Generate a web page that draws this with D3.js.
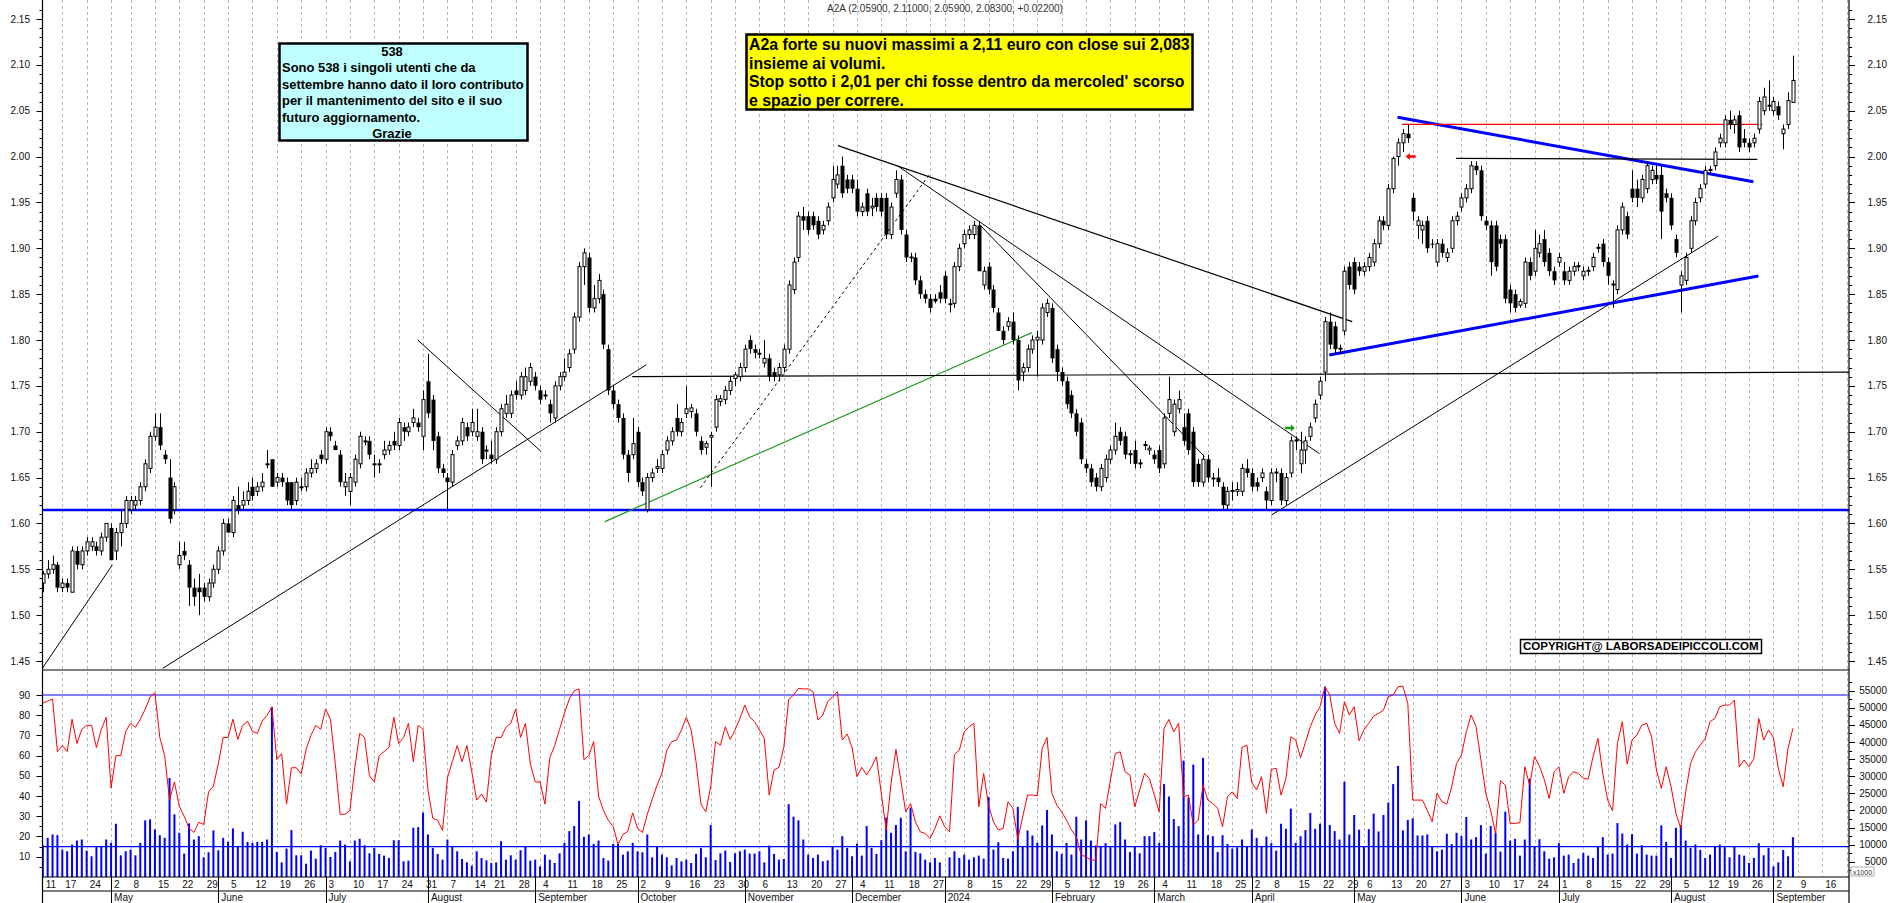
<!DOCTYPE html>
<html><head><meta charset="utf-8">
<script src="https://cdn.jsdelivr.net/npm/d3@7"></script>
<style>
html,body{margin:0;padding:0;background:#fff;}
svg{display:block;}
text{font-family:"Liberation Sans",Arial,sans-serif;}
</style></head><body>
<svg id="c" width="1890" height="903"></svg>
<script>
// ---------------- DATA ----------------
const firstDay = "2023-04-11";
const lastAxisDay = "2024-09-27";
const holidays = ["2023-05-01","2023-08-15","2023-12-25","2023-12-26","2024-01-01","2024-03-29","2024-04-01","2024-05-01","2024-08-15"];

const open = [
1.535,1.545,1.55,1.555,1.53,1.535,1.525,1.57,1.555,1.57,
1.575,1.575,1.57,1.585,1.595,1.57,1.59,1.60,1.615,1.62,
1.625,1.64,1.66,1.695,1.705,1.675,1.65,1.615,1.555,1.57,
1.555,1.53,1.53,1.53,1.52,1.535,1.55,1.57,1.60,1.59,
1.62,1.62,1.625,1.64,1.635,1.64,1.665,1.67,1.645,1.65,
1.645,1.645,1.625,1.64,1.64,1.655,1.66,1.675,1.67,1.70,
1.685,1.675,1.64,1.635,1.645,1.665,1.69,1.69,1.665,1.665,
1.675,1.68,1.69,1.685,1.705,1.70,1.71,1.71,1.695,1.755,
1.735,1.695,1.66,1.65,1.645,1.685,1.69,1.705,1.70,1.695,
1.70,1.68,1.675,1.67,1.70,1.72,1.72,1.745,1.74,1.745,
1.755,1.76,1.745,1.74,1.73,1.715,1.75,1.76,1.77,1.79,
1.825,1.88,1.89,1.835,1.845,1.85,1.79,1.745,1.73,1.715,
1.675,1.675,1.70,1.645,1.615,1.65,1.66,1.66,1.68,1.69,
1.715,1.70,1.72,1.722,1.72,1.69,1.683,1.694,1.705,1.733,
1.735,1.745,1.758,1.76,1.77,1.80,1.79,1.786,1.775,1.78,
1.765,1.762,1.77,1.79,1.855,1.89,1.935,1.935,1.935,1.93,
1.92,1.93,1.955,1.97,1.99,1.975,1.975,1.965,1.94,1.96,
1.944,1.955,1.955,1.955,1.915,1.96,1.975,1.915,1.891,1.89,
1.865,1.85,1.845,1.845,1.852,1.87,1.84,1.84,1.88,1.905,
1.915,1.915,1.925,1.86,1.88,1.855,1.83,1.81,1.815,1.82,
1.80,1.765,1.77,1.79,1.80,1.80,1.83,1.835,1.79,1.765,
1.755,1.74,1.72,1.71,1.665,1.66,1.65,1.64,1.65,1.67,
1.68,1.70,1.695,1.675,1.68,1.665,1.685,1.68,1.675,1.68,
1.665,1.72,1.70,1.725,1.705,1.72,1.70,1.665,1.645,1.67,
1.65,1.65,1.64,1.62,1.635,1.635,1.635,1.66,1.655,1.645,
1.65,1.635,1.625,1.655,1.655,1.625,1.655,1.69,1.665,1.68,
1.695,1.715,1.74,1.765,1.82,1.815,1.79,1.81,1.88,1.885,
1.88,1.875,1.88,1.885,1.905,1.93,1.925,1.965,2.00,2.015,
2.025,1.955,1.925,1.92,1.93,1.905,1.885,1.905,1.89,1.90,
1.93,1.945,1.955,1.965,1.99,1.985,1.93,1.925,1.925,1.91,
1.91,1.855,1.85,1.838,1.84,1.885,1.875,1.895,1.91,1.895,
1.875,1.885,1.875,1.865,1.875,1.88,1.87,1.875,1.88,1.90,
1.905,1.885,1.86,1.855,1.92,1.935,1.965,1.965,1.955,1.965,
1.975,1.98,1.98,1.96,1.955,1.91,1.86,1.865,1.90,1.93,
1.955,1.97,1.985,1.99,2.015,2.015,2.04,2.035,2.045,2.02,
2.015,2.015,2.03,2.05,2.055,2.05,2.055,2.025,2.035,2.059];
const high = [
1.548,1.56,1.565,1.558,1.54,1.54,1.575,1.575,1.575,1.585,
1.585,1.58,1.59,1.60,1.60,1.595,1.615,1.63,1.63,1.63,
1.645,1.67,1.70,1.72,1.72,1.68,1.67,1.645,1.58,1.58,
1.56,1.54,1.545,1.535,1.54,1.555,1.575,1.605,1.605,1.63,
1.64,1.635,1.645,1.65,1.645,1.655,1.68,1.67,1.655,1.655,
1.65,1.645,1.65,1.65,1.66,1.67,1.67,1.68,1.705,1.705,
1.69,1.68,1.655,1.655,1.675,1.70,1.695,1.695,1.675,1.67,
1.69,1.69,1.70,1.715,1.71,1.71,1.725,1.715,1.745,1.785,
1.74,1.70,1.665,1.655,1.68,1.695,1.715,1.71,1.725,1.725,
1.705,1.685,1.69,1.705,1.73,1.74,1.745,1.755,1.765,1.77,
1.775,1.765,1.75,1.745,1.735,1.755,1.765,1.78,1.79,1.83,
1.885,1.90,1.895,1.86,1.872,1.855,1.795,1.75,1.735,1.72,
1.68,1.715,1.705,1.65,1.655,1.66,1.67,1.68,1.695,1.705,
1.73,1.715,1.75,1.73,1.725,1.695,1.69,1.70,1.74,1.74,
1.75,1.76,1.765,1.775,1.795,1.805,1.795,1.79,1.80,1.785,
1.77,1.775,1.795,1.865,1.89,1.94,1.945,1.94,1.94,1.935,
1.93,1.95,1.99,1.99,2.00,1.98,1.98,1.975,1.95,1.965,
1.955,1.96,1.96,1.96,1.95,1.985,1.98,1.92,1.895,1.895,
1.87,1.855,1.85,1.85,1.86,1.875,1.845,1.885,1.905,1.92,
1.925,1.93,1.93,1.88,1.885,1.86,1.835,1.815,1.825,1.83,
1.805,1.775,1.795,1.805,1.81,1.84,1.845,1.84,1.795,1.77,
1.76,1.745,1.725,1.715,1.67,1.665,1.655,1.665,1.675,1.685,
1.71,1.705,1.70,1.68,1.69,1.67,1.69,1.685,1.68,1.685,
1.72,1.76,1.735,1.745,1.72,1.725,1.705,1.67,1.675,1.675,
1.655,1.66,1.645,1.64,1.645,1.645,1.665,1.67,1.66,1.65,
1.66,1.64,1.66,1.66,1.66,1.655,1.695,1.695,1.70,1.695,
1.71,1.735,1.76,1.825,1.83,1.82,1.795,1.88,1.885,1.89,
1.885,1.885,1.895,1.91,1.935,1.935,1.97,2.00,2.02,2.03,
2.035,1.96,1.935,1.93,1.935,1.91,1.91,1.91,1.90,1.935,
1.94,1.96,1.97,1.995,1.995,1.99,1.935,1.93,1.93,1.915,
1.915,1.86,1.855,1.845,1.89,1.89,1.92,1.915,1.92,1.90,
1.88,1.895,1.885,1.88,1.885,1.885,1.88,1.88,1.895,1.905,
1.91,1.89,1.865,1.925,1.95,1.94,1.985,1.975,1.98,1.995,
1.99,1.99,1.99,1.965,1.96,1.915,1.875,1.895,1.935,1.955,
1.97,1.99,1.99,2.01,2.025,2.045,2.05,2.045,2.05,2.03,
2.02,2.025,2.065,2.075,2.083,2.065,2.06,2.035,2.07,2.11];
const low = [
1.525,1.54,1.545,1.525,1.525,1.525,1.525,1.55,1.55,1.565,
1.57,1.565,1.565,1.58,1.56,1.56,1.575,1.595,1.61,1.615,
1.62,1.635,1.655,1.69,1.68,1.665,1.60,1.61,1.55,1.56,
1.51,1.51,1.50,1.515,1.515,1.53,1.545,1.565,1.59,1.585,
1.61,1.615,1.62,1.625,1.63,1.635,1.66,1.64,1.64,1.64,
1.62,1.615,1.62,1.635,1.635,1.65,1.655,1.665,1.665,1.69,
1.68,1.64,1.63,1.62,1.64,1.66,1.685,1.67,1.65,1.655,
1.67,1.675,1.68,1.68,1.69,1.695,1.705,1.70,1.68,1.715,
1.68,1.655,1.65,1.615,1.64,1.68,1.685,1.69,1.695,1.69,
1.665,1.67,1.665,1.665,1.695,1.715,1.715,1.735,1.735,1.74,
1.75,1.745,1.73,1.735,1.71,1.71,1.745,1.755,1.765,1.785,
1.82,1.86,1.83,1.83,1.84,1.79,1.74,1.725,1.71,1.67,
1.645,1.67,1.64,1.63,1.612,1.645,1.655,1.655,1.675,1.685,
1.695,1.695,1.715,1.715,1.695,1.675,1.675,1.64,1.70,1.728,
1.73,1.74,1.75,1.755,1.765,1.785,1.78,1.78,1.77,1.755,
1.755,1.755,1.765,1.785,1.85,1.885,1.92,1.915,1.92,1.91,
1.915,1.925,1.95,1.965,1.955,1.96,1.96,1.935,1.935,1.935,
1.935,1.94,1.935,1.91,1.91,1.955,1.915,1.885,1.885,1.86,
1.845,1.84,1.83,1.84,1.84,1.84,1.83,1.835,1.875,1.90,
1.91,1.91,1.875,1.855,1.85,1.83,1.81,1.795,1.81,1.795,
1.745,1.755,1.765,1.785,1.76,1.795,1.825,1.775,1.755,1.75,
1.725,1.715,1.695,1.665,1.655,1.64,1.635,1.635,1.645,1.665,
1.675,1.685,1.67,1.665,1.66,1.66,1.68,1.675,1.665,1.655,
1.66,1.715,1.695,1.72,1.685,1.675,1.64,1.64,1.64,1.645,
1.64,1.64,1.615,1.615,1.625,1.63,1.63,1.65,1.635,1.635,
1.645,1.615,1.62,1.645,1.62,1.62,1.65,1.68,1.655,1.665,
1.69,1.71,1.735,1.755,1.79,1.785,1.785,1.805,1.855,1.85,
1.87,1.87,1.875,1.88,1.90,1.92,1.92,1.96,1.99,2.005,
2.015,1.93,1.91,1.905,1.895,1.90,1.88,1.89,1.885,1.895,
1.925,1.94,1.95,1.96,1.98,1.93,1.92,1.87,1.875,1.90,
1.84,1.83,1.83,1.835,1.835,1.865,1.87,1.89,1.88,1.87,
1.86,1.88,1.86,1.86,1.87,1.875,1.865,1.87,1.875,1.895,
1.88,1.86,1.835,1.85,1.915,1.91,1.95,1.945,1.95,1.96,
1.97,1.97,1.91,1.95,1.92,1.89,1.83,1.86,1.895,1.925,
1.95,1.965,1.98,1.985,2.01,2.01,2.03,2.025,2.005,2.01,
2.005,2.01,2.025,2.045,2.05,2.045,2.04,2.008,2.03,2.059];
const close = [
1.545,1.55,1.555,1.53,1.535,1.53,1.57,1.555,1.57,1.58,
1.58,1.57,1.585,1.60,1.56,1.59,1.60,1.625,1.625,1.625,
1.64,1.665,1.695,1.705,1.685,1.67,1.605,1.64,1.565,1.565,
1.53,1.52,1.525,1.52,1.535,1.55,1.57,1.60,1.59,1.625,
1.615,1.625,1.635,1.63,1.64,1.645,1.665,1.64,1.65,1.645,
1.625,1.62,1.645,1.64,1.655,1.66,1.665,1.67,1.70,1.695,
1.68,1.645,1.645,1.65,1.67,1.695,1.69,1.675,1.665,1.665,
1.68,1.685,1.685,1.71,1.70,1.705,1.715,1.705,1.735,1.72,
1.69,1.66,1.655,1.645,1.675,1.69,1.71,1.695,1.71,1.70,
1.67,1.68,1.67,1.70,1.725,1.73,1.74,1.74,1.76,1.76,
1.77,1.75,1.735,1.74,1.72,1.75,1.76,1.765,1.785,1.825,
1.88,1.895,1.835,1.845,1.865,1.795,1.745,1.73,1.715,1.675,
1.655,1.687,1.645,1.635,1.65,1.655,1.662,1.675,1.69,1.70,
1.70,1.71,1.725,1.726,1.70,1.68,1.687,1.696,1.735,1.736,
1.745,1.755,1.762,1.77,1.79,1.79,1.786,1.784,1.78,1.76,
1.76,1.77,1.79,1.86,1.885,1.935,1.93,1.92,1.925,1.915,
1.925,1.945,1.975,1.98,1.96,1.965,1.965,1.94,1.945,1.94,
1.946,1.945,1.94,1.915,1.945,1.975,1.92,1.89,1.889,1.865,
1.85,1.845,1.835,1.842,1.845,1.845,1.838,1.88,1.90,1.915,
1.92,1.925,1.875,1.875,1.855,1.835,1.81,1.80,1.82,1.80,
1.756,1.77,1.79,1.80,1.803,1.835,1.84,1.78,1.765,1.755,
1.73,1.72,1.70,1.67,1.66,1.645,1.64,1.66,1.67,1.68,
1.695,1.69,1.675,1.676,1.665,1.666,1.686,1.682,1.67,1.66,
1.715,1.735,1.73,1.735,1.69,1.68,1.645,1.645,1.67,1.65,
1.648,1.645,1.62,1.635,1.636,1.637,1.66,1.655,1.64,1.64,
1.655,1.625,1.655,1.656,1.625,1.65,1.69,1.691,1.68,1.69,
1.705,1.73,1.755,1.82,1.795,1.79,1.791,1.875,1.86,1.855,
1.875,1.88,1.89,1.905,1.93,1.925,1.965,1.998,2.015,2.025,
2.02,1.94,1.93,1.925,1.90,1.904,1.905,1.895,1.895,1.93,
1.935,1.955,1.965,1.99,1.985,1.935,1.925,1.885,1.88,1.905,
1.845,1.84,1.835,1.842,1.885,1.87,1.90,1.905,1.885,1.875,
1.865,1.89,1.865,1.875,1.88,1.881,1.875,1.876,1.89,1.901,
1.885,1.87,1.861,1.92,1.945,1.915,1.955,1.955,1.975,1.99,
1.985,1.975,1.94,1.955,1.925,1.895,1.87,1.89,1.93,1.95,
1.965,1.985,1.986,2.005,2.02,2.04,2.035,2.04,2.01,2.015,
2.01,2.02,2.06,2.065,2.056,2.06,2.045,2.03,2.061,2.083];

// volume (thousands, right axis "x1000")
const volume = [
9820,11980,12960,12770,8540,8050,10020,11190,11490,8250,
6580,9530,9530,11490,10510,16100,6870,8050,8540,6870,
10510,17090,17380,14440,12770,11980,29460,18850,13450,7370,
16200,11490,12470,6280,7760,14140,8350,11980,10800,14730,
9530,13750,10800,10510,10800,10800,11490,50280,7860,4810,
8840,14240,6870,6870,4420,8250,5890,9820,9030,6380,
7860,11190,10020,5110,11190,11690,9820,7460,9030,7270,
6780,6090,11290,11290,5110,5300,14930,15120,19350,12960,
9030,7270,5600,11490,9530,8050,5790,4810,3830,8050,
6090,5400,4620,4810,11000,5600,6870,5600,8350,9530,
5300,5600,3630,7070,5600,4620,7460,10510,13940,15420,
22780,12280,12960,10210,11190,6090,5300,10210,10210,7070,
8000,
10510,8050,7760,12960,6280,9530,7070,6280,3930,6090,
5110,5600,4620,7270,9030,6280,15710,5500,7460,8250,
4910,7460,8050,8540,7370,7370,8050,4810,9720,7270,
5600,5790,21800,18170,17090,11490,7070,6090,7070,5110,
5400,9530,8540,12470,9030,6580,10310,6780,15420,9030,
7270,11290,17870,13450,15710,17870,8050,20820,7860,7460,
5600,4810,6090,4810,0,6280,8050,6090,7070,5600,
6280,6780,5890,23960,8540,10700,6090,5890,8050,21010,
9530,14140,12670,10510,15610,20130,12960,8050,7270,10510,
7070,18170,11490,17090,11190,9720,9430,10410,9230,15910,
16600,11490,7860,9530,7460,12470,12470,13650,10510,27690,
24060,17480,15420,34570,23760,33390,12960,35350,12770,12470,
7860,12770,10210,8840,9230,11490,9530,14440,11980,
9530,12370,10410,8250,16100,14630,20520,10510,12470,14240,
19250,14630,16100,56170,15710,13940,11490,28380,12960,18660,
14340,9530,14530,19050,13850,18660,22290,27690,33000,14140,
17190,17680,12670,12670,12960,9530,8050,8540,13160,10110,
13450,12470,18070,11490,12180,15710,7370,15420,13450,7950,
19640,11190,11690,6780,11490,29260,9530,11590,8050,5890,
6280,10410,6780,7070,4620,5890,7560,6780,6090,9330,
12180,7070,7370,16300,13260,10020,13060,7370,9820,7070,
6780,6780,15610,10800,6090,14930,15710,11190,9030,10020,
8450,6090,7070,9530,10020,9230,6280,9330,7070,6780,
4620,6090,10410,6870,9030,3630,4810,8450,6580,12180];

// oscillator (left axis of lower panel)
const oscillator = [
86,87,88,62,65,62,78,66,73,75,
75,64,73,79,44,60,60,72,76,74,
78,83,89,91,69,60,38,47,35,30,
24,22,27,26,42,45,56,69,69,78,
68,75,77,72,71,77,80,84,58,61,
36,54,54,51,63,70,75,73,83,78,
56,31,31,33,54,71,69,50,47,60,
62,64,79,66,69,76,57,75,73,43,
29,28,23,49,57,65,57,65,52,38,
41,37,60,69,69,74,76,83,69,76,
56,47,47,36,59,65,73,81,88,92,
93,58,60,67,40,33,28,25,16,21,
22.5,31.7,24,22,31,38.3,45.4,51.2,62.7,66.9,
67.7,72.7,78.9,72.7,57,36,32.2,44.6,66.9,65.2,
74.3,68,72.7,78.4,85,79.2,76.8,72.7,68.5,40.5,
52.9,54.2,64.1,87.8,90,93.3,93,93,91.6,77.6,
80.1,86.7,89.2,91.6,67.7,70.7,64.1,49.6,54.2,50.4,
54.5,59.5,41.3,23.2,46.3,63.1,47.9,32.2,36.3,27.3,
22.3,21.5,19,24,30.2,24.8,22.3,60.6,62.7,71.8,
74.3,76,34.7,51.2,35.5,27.3,23.2,24,37.2,33.9,
18.7,29.7,40.5,40.5,40.1,63.6,69,41.3,35.5,32.2,
28.1,23.2,19.9,10.8,10,8.3,8.3,36.3,33.9,47.9,
61.1,61.9,52,50.4,34.7,43,51.2,48.7,40.5,32.2,
73.5,77.9,71.8,76,39.6,40.5,25.6,28.1,45.4,38,
36.3,33.9,24.8,39.6,42.1,38.8,64.1,65.2,46.6,43,
49.6,31.4,53.2,53.7,40.5,48.7,69.4,67.7,59,66.5,
74.3,80.1,84.2,94.1,90,76,71,86.7,80.1,84.2,
67.4,72.7,76,79.6,80.9,82.5,89.2,90,94.1,94.4,
85.8,38,38,38,33,27.3,41.3,37.2,36,44.6,
56.1,60.3,71.8,80.1,74.3,57.8,41.3,33,21.5,47.6,
45.4,26.5,26.5,26.8,54.5,45.4,59.5,54.8,48.2,38.8,
52,54.5,41.3,49.6,52,51.2,48.7,48.4,59.5,68.5,
51.2,38,32.7,66.1,76.8,55.8,67.7,70.2,75.1,76,
69.4,52.9,43.8,54.5,44.6,31.4,24,42.1,56.1,61.9,
65.2,68.5,76.8,78.4,84.2,85,85,87.5,54.5,57.8,
54.5,58.6,78.4,67.7,72.7,69,53.7,44.6,63.6,73.5];

const oscLevels = [90, 15];
const priceTicks = d3.range(145, 216, 5).map(v => v / 100);
const oscTicks = [10,20,30,40,50,60,70,80,90];
const volTicks = d3.range(5000, 55001, 5000);
const supportLevel = 1.6146;

// drawn studies, in (trading-day index, price)
const studies = [
 {p:[[-0.1,1.442],[14.3,1.555]], c:"#000", w:1},
 {p:[[24.6,1.442],[123.8,1.773]], c:"#000", w:1},
 {p:[[76.9,1.80],[102.1,1.679]], c:"#000", w:1},
 {p:[[115.3,1.602],[202.9,1.808]], c:"#1a9a1a", w:1.2},
 {p:[[134.9,1.639],[182.1,1.982]], c:"#000", w:1, d:"3,3"},
 {p:[[120.9,1.760],[370.5,1.765]], c:"#000", w:1.2},
 {p:[[163.1,2.012],[268.6,1.820]], c:"#000", w:1.2},
 {p:[[175.3,1.990],[261.9,1.676]], c:"#000", w:1},
 {p:[[192.3,1.925],[238.3,1.673]], c:"#000", w:1},
 {p:[[252,1.609],[343.6,1.913]], c:"#000", w:1},
 {p:[[263.9,1.7836],[351.9,1.8698]], c:"#0000ff", w:3},
 {p:[[277.9,2.0428],[350.9,1.9726]], c:"#0000ff", w:3},
 {p:[[278.8,2.0352],[352.7,2.0352]], c:"#ff0000", w:1.3},
 {p:[[289.9,1.998],[351.7,1.997]], c:"#000", w:1.3}
];
const arrows = [{i:280.6, v:2.0, dir:-1, c:"#ff0000"}, {i:255.8, v:1.704, dir:1, c:"#1a9a1a"}];

const cyanLines = ["538","Sono 538 i singoli utenti che da","settembre hanno dato il loro contributo","per il mantenimento  del sito e il suo","futuro aggiornamento.","Grazie"];
const yellowLines = ["A2a forte su nuovi massimi a 2,11 euro con close sui 2,083","insieme ai volumi.","Stop sotto i 2,01 per chi fosse dentro da mercoled' scorso","e spazio per correre."];
const copyrightText = "COPYRIGHT@ LABORSADEIPICCOLI.COM";

// ---------------- LAYOUT ----------------
const svg = d3.select("#c");
const L = 42.5, R = 1849, STEP = 4.875, X0 = 42.8;
const P_BOT = 670, V_BOT = 877, D_BOT = 891;
const fmtD = d3.utcFormat("%Y-%m-%d");
const days = d3.utcDay.range(new Date(firstDay + "T00:00:00Z"), new Date(lastAxisDay + "T23:00:00Z"))
  .filter(d => d.getUTCDay() > 0 && d.getUTCDay() < 6 && !holidays.includes(fmtD(d)));
const N = close.length;
const x = d3.scaleLinear().domain([0, 1]).range([X0, X0 + STEP]);
const yP = d3.scaleLinear().domain([1.45, 2.15]).range([661, 19]);
const yO = d3.scaleLinear().domain([10, 90]).range([856.7, 695]);
const yV = d3.scaleLinear().domain([5000, 55000]).range([861.7, 690.7]);

const defs = svg.append("defs");
defs.append("clipPath").attr("id","cp").append("rect").attr("x",L).attr("y",0).attr("width",R-L).attr("height",P_BOT);
defs.append("clipPath").attr("id","cl").append("rect").attr("x",L).attr("y",P_BOT).attr("width",R-L).attr("height",V_BOT-P_BOT);
defs.append("clipPath").attr("id","cd").append("rect").attr("x",L).attr("y",V_BOT).attr("width",R-L).attr("height",30);

svg.append("rect").attr("width",1890).attr("height",903).attr("fill","#fff");

// week / month starts
const weekStarts = [], monthStarts = [];
days.forEach((d,i) => {
  if (i === 0) return;
  const p = days[i-1];
  if (+d3.utcMonday.floor(d) !== +d3.utcMonday.floor(p)) weekStarts.push(i);
  if (d.getUTCMonth() !== p.getUTCMonth()) monthStarts.push(i);
});

// gridlines
svg.append("g").selectAll("line").data(weekStarts.filter(i => x(i) < R)).join("line")
  .attr("x1", i => Math.round(x(i))+0.5).attr("x2", i => Math.round(x(i))+0.5)
  .attr("y1", 0).attr("y2", V_BOT)
  .attr("stroke", "#b8b8b8").attr("stroke-width", 1).attr("stroke-dasharray", "3,3");

// ---------------- LOWER PANEL ----------------
const gl = svg.append("g").attr("clip-path","url(#cl)");
gl.selectAll("rect.v").data(d3.range(N)).join("rect").attr("class","v")
  .attr("x", i => x(i) - 1).attr("width", 2)
  .attr("y", i => Math.min(V_BOT, yV(volume[i])))
  .attr("height", i => Math.max(0, V_BOT - yV(volume[i])))
  .attr("fill", "#0000ff");
gl.selectAll("line.lv").data(oscLevels).join("line").attr("class","lv")
  .attr("x1", L).attr("x2", R).attr("y1", d => yO(d)).attr("y2", d => yO(d))
  .attr("stroke", "#0000ff").attr("stroke-width", 1.2);
gl.append("path").datum(d3.range(N))
  .attr("d", d3.line().x(i => x(i)).y(i => yO(oscillator[i])))
  .attr("fill","none").attr("stroke","#ff0000").attr("stroke-width",1);

// ---------------- PRICE PANEL ----------------
const gp = svg.append("g").attr("clip-path","url(#cp)");
gp.append("line").attr("x1",L).attr("x2",R).attr("y1",yP(supportLevel)).attr("y2",yP(supportLevel))
  .attr("stroke","#0000ff").attr("stroke-width",2.6);
gp.selectAll("path.st").data(studies).join("path").attr("class","st")
  .attr("d", s => d3.line().x(p => x(p[0])).y(p => yP(p[1]))(s.p))
  .attr("fill","none").attr("stroke", s => s.c).attr("stroke-width", s => s.w)
  .attr("stroke-dasharray", s => s.d || null);

const cg = gp.append("g");
d3.range(N).forEach(i => {
  const cx = Math.round(x(i)) + 0.5;
  const up = close[i] >= open[i];
  cg.append("line").attr("x1",cx).attr("x2",cx).attr("y1",yP(high[i])).attr("y2",yP(low[i]))
    .attr("stroke","#000").attr("stroke-width",1);
  const yt = yP(Math.max(open[i],close[i])), yb = yP(Math.min(open[i],close[i]));
  const h = Math.max(1, yb - yt);
  if (up) {
    cg.append("rect").attr("x",cx-1.5).attr("y",yt).attr("width",3).attr("height",h)
      .attr("fill","#fff").attr("stroke","#000").attr("stroke-width",1);
  } else {
    cg.append("rect").attr("x",cx-2).attr("y",yt).attr("width",4).attr("height",h).attr("fill","#000");
  }
});

arrows.forEach(a => {
  const cx = x(a.i), cy = yP(a.v), s = a.dir;
  const pts = [[-5,0],[-1,-3.5],[-1,-1.3],[5,-1.3],[5,1.3],[-1,1.3],[-1,3.5]].map(p => [cx + p[0]*(-s)*(-1)*( -1), cy + p[1]]);
  // dir -1: tip to the left, dir 1: tip to the right
  const pp = [[-5,0],[-1,-3.5],[-1,-1.3],[5,-1.3],[5,1.3],[-1,1.3],[-1,3.5]].map(p => [cx + p[0]*(s<0?1:-1), cy + p[1]]);
  gp.append("path").attr("d", "M" + pp.map(p => p.join(",")).join("L") + "Z").attr("fill", a.c);
});

// ---------------- AXES ----------------
const ax = svg.append("g");
ax.append("line").attr("x1",L).attr("x2",L).attr("y1",0).attr("y2",903).attr("stroke","#000").attr("stroke-width",1.2);
ax.append("line").attr("x1",R).attr("x2",R).attr("y1",0).attr("y2",903).attr("stroke","#000").attr("stroke-width",1.2);
ax.append("line").attr("x1",L).attr("x2",R).attr("y1",P_BOT).attr("y2",P_BOT).attr("stroke","#000").attr("stroke-width",1.2);
ax.append("line").attr("x1",L).attr("x2",R).attr("y1",V_BOT).attr("y2",V_BOT).attr("stroke","#000").attr("stroke-width",1.2);
ax.append("line").attr("x1",L).attr("x2",R).attr("y1",D_BOT).attr("y2",D_BOT).attr("stroke","#000").attr("stroke-width",1);

// price ticks
const minorP = d3.range(144, 218).map(v => v/100).filter(v => yP(v) > 1 && yP(v) < P_BOT-2);
[[L,-1],[R,1]].forEach(([ax0,dir]) => {
  ax.selectAll(null).data(minorP).join("line")
    .attr("x1", ax0).attr("x2", v => ax0 + dir*((Math.round(v*100)%5===0) ? 6 : 3))
    .attr("y1", v => Math.round(yP(v))+0.5).attr("y2", v => Math.round(yP(v))+0.5)
    .attr("stroke","#000").attr("stroke-width",1);
});
const lblStyle = s => s.attr("font-size", 10).attr("fill", "#111");
ax.selectAll(null).data(priceTicks).join("text").call(lblStyle)
  .attr("x", 30).attr("y", v => yP(v) + 3.5).attr("text-anchor","end").text(d3.format(".2f"));
ax.selectAll(null).data(priceTicks).join("text").call(lblStyle)
  .attr("x", 1887).attr("y", v => yP(v) + 3.5).attr("text-anchor","end").text(d3.format(".2f"));

// lower ticks
const minorO = d3.range(5, 95, 5);
ax.selectAll(null).data(minorO).join("line")
  .attr("x1", L).attr("x2", v => L - (v%10===0 ? 6 : 3))
  .attr("y1", v => Math.round(yO(v))+0.5).attr("y2", v => Math.round(yO(v))+0.5).attr("stroke","#000");
ax.selectAll(null).data(oscTicks).join("text").call(lblStyle)
  .attr("x", 30).attr("y", v => yO(v) + 3.5).attr("text-anchor","end").text(d => d);
const minorV = d3.range(2500, 57501, 2500);
ax.selectAll(null).data(minorV).join("line")
  .attr("x1", R).attr("x2", v => R + (v%5000===0 ? 6 : 3))
  .attr("y1", v => Math.round(yV(v))+0.5).attr("y2", v => Math.round(yV(v))+0.5).attr("stroke","#000");
ax.selectAll(null).data(volTicks).join("text").call(lblStyle)
  .attr("x", 1887).attr("y", v => yV(v) + 3.5).attr("text-anchor","end").text(d => d);
ax.append("rect").attr("x",1851).attr("y",867).attr("width",23).attr("height",9).attr("fill","#fff").attr("stroke","#777").attr("stroke-width",0.6);
ax.append("text").attr("x",1862.5).attr("y",874.5).attr("text-anchor","middle").attr("font-size",7).attr("fill","#333").text("x1000");

// date axis
const gd = svg.append("g").attr("clip-path","url(#cd)");
gd.selectAll(null).data(monthStarts.filter(i => x(i) < R)).join("line")
  .attr("x1", i => Math.round(x(i))+0.5).attr("x2", i => Math.round(x(i))+0.5)
  .attr("y1", V_BOT).attr("y2", 903).attr("stroke","#000");
const dayLabels = [0].concat(weekStarts).filter(i => !(i < N && volume[i] === 0));
gd.selectAll(null).data(dayLabels).join("text").call(lblStyle)
  .attr("x", i => x(i) + 3).attr("y", 888).text(i => days[i].getUTCDate());
const mName = d3.utcFormat("%B");
gd.selectAll(null).data(monthStarts).join("text").call(lblStyle)
  .attr("x", i => x(i) + 3).attr("y", 901)
  .text(i => days[i].getUTCMonth() === 0 ? days[i].getUTCFullYear() : mName(days[i]));

// title
const last = N - 1;
const f5 = d3.format(".5f");
const chg = close[last] - close[last-1];
svg.append("text").attr("x", 945).attr("y", 12).attr("text-anchor","middle").attr("font-size",10).attr("fill","#333")
  .text(`A2A (${f5(open[last])}, ${f5(high[last])}, ${f5(low[last])}, ${f5(close[last])}, ${chg>=0?"+":""}${f5(chg)})`);

// ---------------- TEXT BOXES ----------------
function textBox(bx, by, bw, bh, fill, sw, lines, opt) {
  const g = svg.append("g");
  g.append("rect").attr("x",bx).attr("y",by).attr("width",bw).attr("height",bh)
    .attr("fill",fill).attr("stroke","#000").attr("stroke-width",sw);
  const tg = g.append("g");
  const ts = lines.map((t, k) => tg.append("text").attr("x", 0).attr("y", opt.y0 + k*opt.lh)
    .attr("font-size", opt.fs).attr("font-weight","bold").attr("fill","#000").text(t));
  const maxW = d3.max(ts, t => t.node().getComputedTextLength());
  const kx = opt.target / maxW;
  tg.attr("transform", `translate(${opt.tx},0) scale(${kx},1)`);
  (opt.center || []).forEach(k => ts[k].attr("text-anchor","middle").attr("x", (opt.cx - opt.tx)/kx));
}
textBox(279.5, 43.5, 248, 97, "#c0ffff", 2.5, cyanLines,
  {y0: 56, lh: 16.4, fs: 13, tx: 282, target: 242, center: [0,5], cx: 392});
textBox(746.5, 34.5, 446, 75, "#ffff00", 2.5, yellowLines,
  {y0: 50, lh: 18.6, fs: 16, tx: 749, target: 441});
textBox(1520.5, 639.5, 241, 14, "#fff", 1.5, [copyrightText],
  {y0: 650.5, lh: 0, fs: 11, tx: 1523, target: 236});
</script>
</body></html>
